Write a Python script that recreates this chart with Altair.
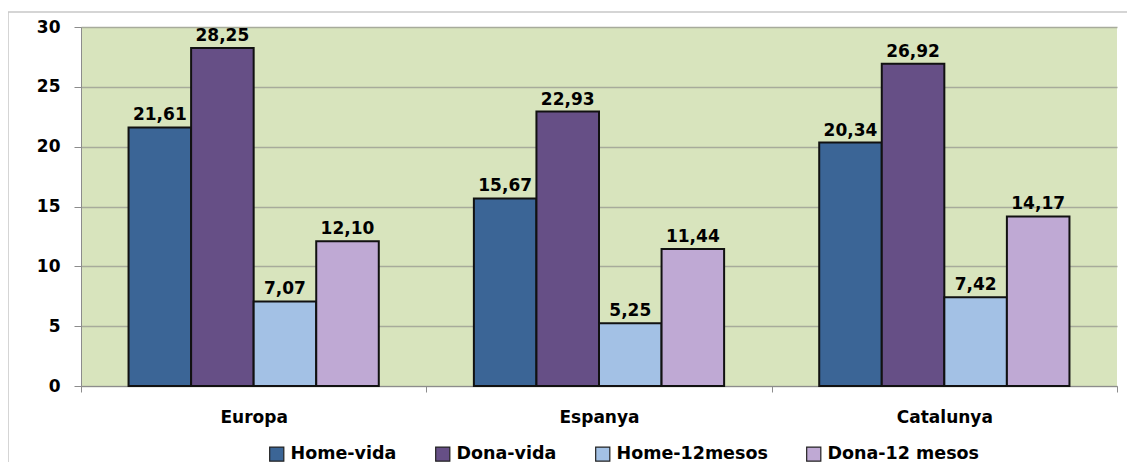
import altair as alt
import pandas as pd

categories = ["Europa", "Espanya", "Catalunya"]
series = ["Home-vida", "Dona-vida", "Home-12mesos", "Dona-12 mesos"]
home_vida = [21.61, 15.67, 20.34]
dona_vida = [28.25, 22.93, 26.92]
home_12 = [7.07, 5.25, 7.42]
dona_12 = [12.10, 11.44, 14.17]
colors = ["#3B6596", "#664F86", "#A3C1E5", "#BFA9D4"]

rows = []
for vals, s in zip([home_vida, dona_vida, home_12, dona_12], series):
    for c, v in zip(categories, vals):
        rows.append({"cat": c, "serie": s, "val": v, "lab": f"{v:.2f}".replace(".", ",")})
df = pd.DataFrame(rows)

W, H = 1036, 359
FONT = "DejaVu Sans"
AXC = "#8c8c8c"

xenc = alt.X("cat:N", sort=categories, title=None,
             scale=alt.Scale(paddingInner=0, paddingOuter=0),
             axis=alt.Axis(labelAngle=0, labelFont=FONT, labelFontSize=17, labelFontWeight="bold",
                           labelColor="#000000", labelPadding=17, tickBand="extent", tickSize=6,
                           domainColor=AXC, tickColor=AXC))
yenc = alt.Y("val:Q", title=None,
             scale=alt.Scale(domain=[0, 30]),
             axis=alt.Axis(values=[0, 5, 10, 15, 20, 25, 30], labelFont=FONT, labelFontSize=17,
                           labelFontWeight="bold", labelColor="#000000", labelPadding=14,
                           tickSize=7, domainColor=AXC, tickColor=AXC,
                           gridColor="#a7ab9b", gridWidth=1.5))

base = alt.Chart(df).encode(
    x=xenc,
    xOffset=alt.XOffset("serie:N", sort=series,
                        scale=alt.Scale(paddingInner=0, paddingOuter=0.76)),
)

bars = base.mark_bar(stroke="#111111", strokeWidth=2).encode(
    y=yenc,
    color=alt.Color("serie:N", sort=series, scale=alt.Scale(domain=series, range=colors),
                    legend=alt.Legend(orient="none", legendX=187, legendY=418,
                                      direction="horizontal", title=None, padding=0,
                                      symbolType="square", symbolSize=200, symbolStrokeColor="#222",
                                      symbolStrokeWidth=1.2, labelFont=FONT, labelFontSize=17.5,
                                      labelFontWeight="bold", labelColor="#000000",
                                      labelOffset=5, columnPadding=36, labelLimit=300)),
)

labels = base.mark_text(dy=-7, baseline="alphabetic", font=FONT, fontSize=17, fontWeight="bold",
                        color="#000000").encode(y="val:Q", text="lab:N")

frame_df = pd.DataFrame({"a": [0]})
frame = alt.Chart(frame_df).mark_rect(fill=None, stroke="#c8c8c8", strokeWidth=1.5).encode(
    x=alt.value(-73), x2=alt.value(W + 60), y=alt.value(-15), y2=alt.value(H + 120)
)

chart = alt.layer(frame, bars, labels).properties(
    width=W, height=H,
    autosize=alt.AutoSizeParams(type="none"),
    padding={"left": 73, "top": 19, "right": 10, "bottom": 76},
).configure_view(fill="#D8E4BD", strokeWidth=0)

chart.save("out.html", embed_options={"renderer": "svg", "actions": False})
